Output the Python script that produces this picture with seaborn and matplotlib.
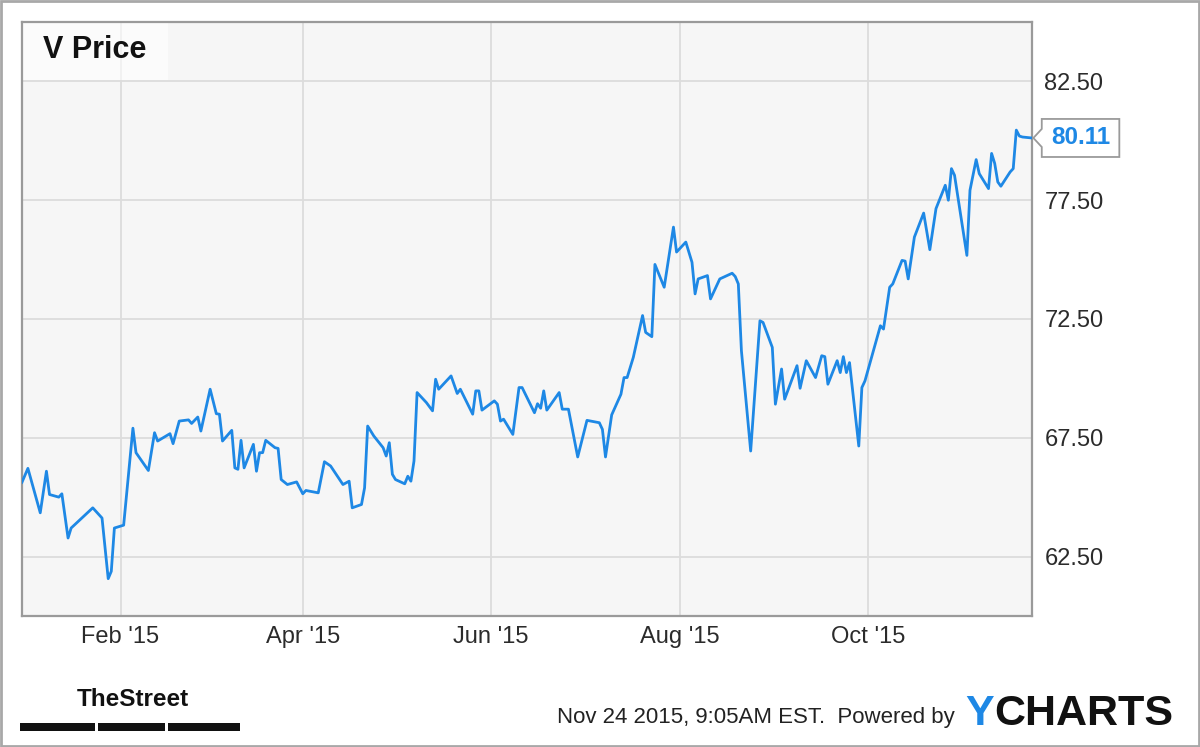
import pandas as pd
import matplotlib
matplotlib.use("Agg")
import matplotlib.pyplot as plt
import matplotlib.dates as mdates
from matplotlib.patches import Rectangle, Polygon
from matplotlib.ticker import StrMethodFormatter
import seaborn as sns

# V closing prices (turning points only)
dates = [
    "2014-12-31", "2015-01-02", "2015-01-06", "2015-01-08", "2015-01-09", "2015-01-12",
    "2015-01-13", "2015-01-15", "2015-01-16", "2015-01-23", "2015-01-26", "2015-01-28",
    "2015-01-29", "2015-01-30", "2015-02-02", "2015-02-05", "2015-02-06", "2015-02-10",
    "2015-02-12", "2015-02-13", "2015-02-17", "2015-02-18", "2015-02-20", "2015-02-23",
    "2015-02-24", "2015-02-26", "2015-02-27", "2015-03-02", "2015-03-04", "2015-03-05",
    "2015-03-06", "2015-03-09", "2015-03-10", "2015-03-11", "2015-03-12", "2015-03-13",
    "2015-03-16", "2015-03-17", "2015-03-18", "2015-03-19", "2015-03-20", "2015-03-23",
    "2015-03-24", "2015-03-25", "2015-03-27", "2015-03-30", "2015-04-01", "2015-04-02",
    "2015-04-06", "2015-04-08", "2015-04-10", "2015-04-14", "2015-04-16", "2015-04-17",
    "2015-04-20", "2015-04-21", "2015-04-22", "2015-04-24", "2015-04-27", "2015-04-28",
    "2015-04-29", "2015-04-30", "2015-05-01", "2015-05-04", "2015-05-05", "2015-05-06",
    "2015-05-07", "2015-05-08", "2015-05-11", "2015-05-13", "2015-05-14", "2015-05-15",
    "2015-05-19", "2015-05-21", "2015-05-22", "2015-05-26", "2015-05-27", "2015-05-28",
    "2015-05-29", "2015-06-02", "2015-06-03", "2015-06-04", "2015-06-05", "2015-06-08",
    "2015-06-10", "2015-06-11", "2015-06-15", "2015-06-16", "2015-06-17", "2015-06-18",
    "2015-06-19", "2015-06-23", "2015-06-24", "2015-06-26", "2015-06-29", "2015-07-02",
    "2015-07-06", "2015-07-07", "2015-07-08", "2015-07-10", "2015-07-13", "2015-07-14",
    "2015-07-15", "2015-07-17", "2015-07-20", "2015-07-21", "2015-07-23", "2015-07-24",
    "2015-07-27", "2015-07-30", "2015-07-31", "2015-08-03", "2015-08-05", "2015-08-06",
    "2015-08-07", "2015-08-10", "2015-08-11", "2015-08-14", "2015-08-18", "2015-08-19",
    "2015-08-20", "2015-08-21", "2015-08-24", "2015-08-27", "2015-08-28", "2015-08-31",
    "2015-09-01", "2015-09-03", "2015-09-04", "2015-09-08", "2015-09-09", "2015-09-11",
    "2015-09-14", "2015-09-16", "2015-09-17", "2015-09-18", "2015-09-21", "2015-09-22",
    "2015-09-23", "2015-09-24", "2015-09-25", "2015-09-28", "2015-09-29", "2015-09-30",
    "2015-10-05", "2015-10-06", "2015-10-08", "2015-10-09", "2015-10-12", "2015-10-13",
    "2015-10-14", "2015-10-16", "2015-10-19", "2015-10-21", "2015-10-23", "2015-10-26",
    "2015-10-27", "2015-10-28", "2015-10-29", "2015-11-02", "2015-11-03", "2015-11-05",
    "2015-11-06", "2015-11-09", "2015-11-10", "2015-11-11", "2015-11-12", "2015-11-13",
    "2015-11-16", "2015-11-17", "2015-11-18", "2015-11-19", "2015-11-20", "2015-11-23",
]
prices = [
    65.60, 66.21, 64.34, 66.09, 65.11, 65.00,
    65.14, 63.28, 63.70, 64.55, 64.12, 61.57,
    61.88, 63.70, 63.82, 67.90, 66.87, 66.12,
    67.71, 67.36, 67.67, 67.25, 68.20, 68.25,
    68.10, 68.37, 67.78, 69.54, 68.51, 68.49,
    67.36, 67.81, 66.23, 66.17, 67.39, 66.23,
    67.22, 66.09, 66.87, 66.87, 67.39, 67.08,
    67.05, 65.74, 65.53, 65.64, 65.14, 65.28,
    65.18, 66.49, 66.31, 65.53, 65.67, 64.55,
    64.69, 65.39, 67.99, 67.57, 67.08, 66.73,
    67.29, 65.96, 65.74, 65.56, 65.88, 65.67,
    66.52, 69.40, 68.98, 68.63, 69.96, 69.54,
    70.10, 69.36, 69.54, 68.49, 69.47, 69.47,
    68.66, 69.05, 68.91, 68.20, 68.28, 67.64,
    69.61, 69.61, 68.55, 68.93, 68.74, 69.47,
    68.66, 69.40, 68.70, 68.70, 66.69, 68.23,
    68.13, 67.85, 66.69, 68.46, 69.33, 70.03,
    70.03, 70.88, 72.64, 71.93, 71.75, 74.79,
    73.83, 76.36, 75.31, 75.73, 74.88, 73.55,
    74.18, 74.32, 73.34, 74.18, 74.42, 74.28,
    73.97, 71.16, 66.94, 72.42, 72.35, 71.30,
    68.91, 70.39, 69.12, 70.53, 69.58, 70.74,
    70.03, 70.95, 70.91, 69.75, 70.74, 70.24,
    70.91, 70.24, 70.66, 67.15, 69.61, 69.89,
    72.21, 72.07, 73.83, 73.97, 74.96, 74.93,
    74.18, 75.94, 76.95, 75.41, 77.14, 78.12,
    77.49, 78.82, 78.54, 75.17, 77.91, 79.20,
    78.61, 77.98, 79.46, 79.04, 78.26, 78.08,
    78.68, 78.82, 80.44, 80.19, 80.15, 80.11,
]
y_ticks = [62.5, 67.5, 72.5, 77.5, 82.5]
ticker_name = "V Price"
footer = "Nov 24 2015, 9:05AM EST.  Powered by"

df = pd.DataFrame({"date": pd.to_datetime(dates), "price": prices})

BLUE = "#1e88e5"
GREY = "#9a9a9a"

sns.set_style("whitegrid", {"axes.facecolor": "#f6f6f6", "grid.color": "#dcdcdc",
                            "axes.edgecolor": GREY})
plt.rcParams["font.family"] = ["Liberation Sans", "DejaVu Sans"]

fig = plt.figure(figsize=(12, 7.47), dpi=100)
ax = fig.add_axes([0.0181, 0.1754, 0.8417, 0.7955])

sns.lineplot(data=df, x="date", y="price", color=BLUE, linewidth=2.0, ax=ax, zorder=3)

ax.set_xlim(df["date"].min(), df["date"].max())
ax.set_ylim(60, 85)
ax.set_xlabel("")
ax.set_ylabel("")
ax.grid(True, linewidth=1.3)
for s in ax.spines.values():
    s.set_visible(True)
    s.set_color(GREY)
    s.set_linewidth(1.6)

ax.xaxis.set_major_locator(mdates.MonthLocator(bymonth=[2, 4, 6, 8, 10]))
ax.xaxis.set_major_formatter(mdates.DateFormatter("%b '%y"))
ax.yaxis.tick_right()
ax.set_yticks(y_ticks)
ax.yaxis.set_major_formatter(StrMethodFormatter("{x:.2f}"))
ax.tick_params(axis="both", length=0, labelsize=17, labelcolor="#2b2b2b")
ax.tick_params(axis="x", pad=7)
ax.tick_params(axis="y", pad=9)

# title box in the top-left corner
ax.add_patch(Rectangle((0, 1), 0.145, -0.098, transform=ax.transAxes,
                       facecolor="white", alpha=0.6, edgecolor="none", zorder=1))
ax.text(0.021, 0.952, ticker_name, transform=ax.transAxes, fontsize=22,
        fontweight="bold", color="#111111", va="center", ha="left", zorder=4)

# last price marker on the right
last = df["price"].iloc[-1]
tr = ax.get_yaxis_transform()
pts = [(1.0016, last), (1.0099, last + 0.38), (1.0099, last + 0.8), (1.0867, last + 0.8),
       (1.0867, last - 0.8), (1.0099, last - 0.8), (1.0099, last - 0.38)]
ax.add_patch(Polygon(pts, closed=True, transform=tr, facecolor="white",
                     edgecolor=GREY, linewidth=1.3, clip_on=False, zorder=5))
ax.text(1.0483, last, f"{last:.2f}", transform=tr, color=BLUE, fontsize=17.5,
        fontweight="bold", ha="center", va="center", clip_on=False, zorder=6)

# frame round the whole picture
fig.patches.append(Rectangle((0.0012, 0.002), 0.9976, 0.996, transform=fig.transFigure,
                             fill=False, edgecolor="#a8a8a8", linewidth=2))

# footer
fig.text(557 / 1200, 1 - 718 / 747, footer, fontsize=16, color="#222222", va="center")
fig.text(965 / 1200, 1 - 714 / 747, "Y", fontsize=31, fontweight="bold", color=BLUE, va="center")
fig.text(994 / 1200, 1 - 714 / 747, "CHARTS", fontsize=31, fontweight="bold", color="#111111",
         va="center")

# TheStreet logo
fig.text(77 / 1200, 1 - 700 / 747, "TheStreet", fontsize=17.5, fontweight="bold",
         color="#111111", va="center")
for x0, x1 in [(20, 95), (98, 165), (168, 240)]:
    fig.patches.append(Rectangle((x0 / 1200, 1 - 731 / 747), (x1 - x0) / 1200, 8 / 747,
                                 transform=fig.transFigure, facecolor="#111111",
                                 edgecolor="none"))

fig.savefig("out.png", dpi=100)
